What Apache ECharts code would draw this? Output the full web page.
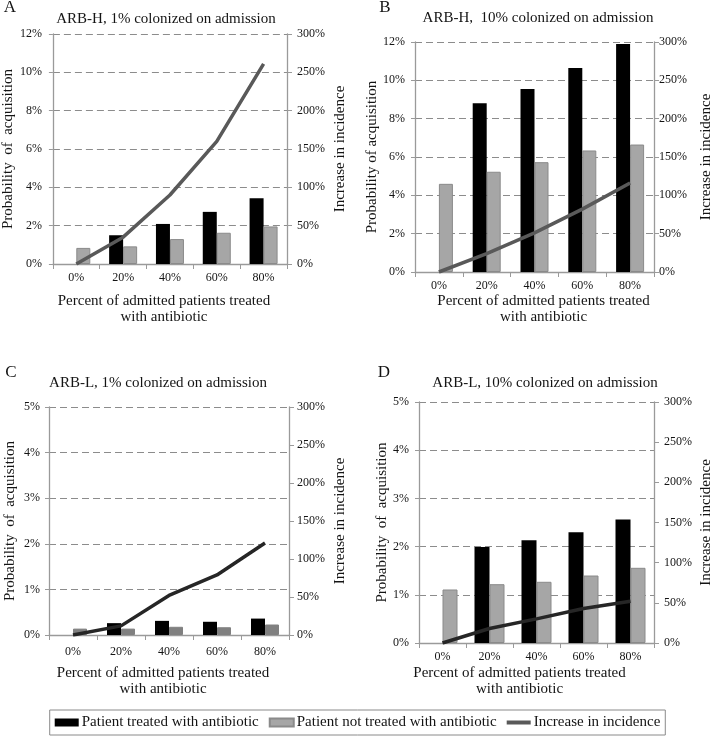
<!DOCTYPE html>
<html>
<head>
<meta charset="utf-8">
<script src="https://cdn.jsdelivr.net/npm/echarts@6/dist/echarts.min.js"></script>
<style>
html,body{margin:0;padding:0;background:#fff;}
#chart{width:715px;height:737px;}
</style>
</head>
<body>
<div id="chart"></div>
<script>
// ---- data ----
var categories = ['0%', '20%', '40%', '60%', '80%'];
var leftTicksH = [0, 12, 2];   // min, max, interval (percent)
var leftTicksL = [0, 5, 1];
var rightTicks = [0, 300, 50];

var A_treated   = [null, 1.5, 2.09, 2.72, 3.43];
var A_untreated = [0.84, 0.92, 1.3, 1.63, 1.96];
var A_increase  = [0, 35, 90, 160, 261];

var B_treated   = [null, 8.8, 9.55, 10.64, 11.89];
var B_untreated = [4.6, 5.23, 5.73, 6.34, 6.65];
var B_increase  = [0, 24, 51, 82, 116];

var C_treated   = [null, 0.26, 0.31, 0.29, 0.36];
var C_untreated = [0.14, 0.14, 0.18, 0.17, 0.23];
var C_increase  = [0, 12, 52, 79, 121];

var D_treated   = [null, 1.99, 2.13, 2.3, 2.56];
var D_untreated = [1.11, 1.22, 1.27, 1.4, 1.56];
var D_increase  = [0, 18, 30, 43, 52];

var panelTitles = ['ARB-H, 1% colonized on admission', 'ARB-H,  10% colonized on admission',
                   'ARB-L, 1% colonized on admission', 'ARB-L, 10% colonized on admission'];
var panelLetters = ['A', 'B', 'C', 'D'];
var yNames = ['Probability  of  acquisition', 'Probability of acquisition',
              'Probability  of  acquisition', 'Probability  of  acquisition'];
var y2Name = 'Increase in incidence';
var xName = 'Percent of admitted patients treated\nwith antibiotic';
var seriesNames = ['Patient treated with antibiotic', 'Patient not treated with antibiotic', 'Increase in incidence'];

// ---- layout / style ----
var FONT = '"Liberation Serif", "Times New Roman", serif';
var TXT = '#141414';
var AXC = '#9a9a9a';
var GRIDC = '#8c8c8c';

var panels = [
  {grid:{left:48, top:34, width:239, height:230}, ticks:leftTicksH, data:[A_treated, A_untreated, A_increase],
   title:[166,19], letter:[10,8], yGap:32, y2Gap:46, xGap:29, xPad:[0,12,0,0], xMargin:8, yMargin:11, y2Margin:10,
   grayColor:'#a6a6a6', grayBorder:'#8a8a8a', lineColor:'#595959', barW:14},
  {grid:{left:415, top:42, width:243, height:230}, ticks:leftTicksH, data:[B_treated, B_untreated, B_increase],
   title:[538,18], letter:[385,8], yGap:31, y2Gap:45, xGap:21, xPad:[0,0,0,18], xMargin:8, yMargin:10, y2Margin:5,
   grayColor:'#a6a6a6', grayBorder:'#8a8a8a', lineColor:'#595959', barW:14},
  {grid:{left:49, top:407, width:240, height:228}, ticks:leftTicksL, data:[C_treated, C_untreated, C_increase],
   title:[158,383], letter:[11,373], yGap:31, y2Gap:44, xGap:30, xPad:[0,12,0,0], xMargin:11, yMargin:9, y2Margin:8,
   grayColor:'#808080', grayBorder:'#808080', lineColor:'#262626', barW:14},
  {grid:{left:419, top:402, width:239, height:241}, ticks:leftTicksL, data:[D_treated, D_untreated, D_increase],
   title:[545,383], letter:[384,373], yGap:28, y2Gap:45, xGap:22, xPad:[0,34,0,0], xMargin:8, yMargin:10, y2Margin:10,
   grayColor:'#a6a6a6', grayBorder:'#8a8a8a', lineColor:'#262626', barW:15}
];

var grids = [], xAxes = [], yAxes = [], series = [], graphics = [];

panels.forEach(function (p, i) {
  grids.push(Object.assign({containLabel:false}, p.grid));
  xAxes.push({
    type:'category', gridIndex:i, data:categories, boundaryGap:true,
    axisLine:{show:true, lineStyle:{color:AXC, width:1.3}},
    axisTick:{show:true, length:5, lineStyle:{color:AXC}},
    axisLabel:{fontFamily:FONT, fontSize:12, color:TXT, margin:p.xMargin},
    name:xName, nameLocation:'middle', nameGap:p.xGap,
    nameTextStyle:{fontFamily:FONT, fontSize:15, color:TXT, lineHeight:16, padding:p.xPad, verticalAlign:'top'}
  });
  yAxes.push({
    type:'value', gridIndex:i, position:'left', min:p.ticks[0], max:p.ticks[1], interval:p.ticks[2],
    axisLine:{show:true, lineStyle:{color:AXC, width:1.3}},
    axisTick:{show:true, length:4, lineStyle:{color:AXC}},
    axisLabel:{fontFamily:FONT, fontSize:12, color:TXT, margin:p.yMargin, formatter:'{value}%'},
    splitLine:{show:true, lineStyle:{color:GRIDC, type:[7,4], width:1}},
    name:yNames[i], nameLocation:'middle', nameGap:p.yGap, nameRotate:90,
    nameTextStyle:{fontFamily:FONT, fontSize:15, color:TXT}
  });
  yAxes.push({
    type:'value', gridIndex:i, position:'right', min:rightTicks[0], max:rightTicks[1], interval:rightTicks[2],
    axisLine:{show:true, lineStyle:{color:AXC, width:1.3}},
    axisTick:{show:true, length:5, lineStyle:{color:AXC}},
    axisLabel:{fontFamily:FONT, fontSize:12, color:TXT, margin:p.y2Margin, formatter:'{value}%'},
    splitLine:{show:false},
    name:y2Name, nameLocation:'middle', nameGap:p.y2Gap, nameRotate:90,
    nameTextStyle:{fontFamily:FONT, fontSize:15, color:TXT}
  });
  series.push({
    name:seriesNames[0], type:'bar', xAxisIndex:i, yAxisIndex:2*i, data:p.data[0],
    barWidth:p.barW, barGap:'0%', itemStyle:{color:'#000000'}, z:2, animation:false
  });
  series.push({
    name:seriesNames[1], type:'bar', xAxisIndex:i, yAxisIndex:2*i, data:p.data[1],
    barWidth:p.barW, barGap:'0%', itemStyle:{color:p.grayColor, borderColor:p.grayBorder, borderWidth:1}, z:2, animation:false
  });
  series.push({
    name:seriesNames[2], type:'line', xAxisIndex:i, yAxisIndex:2*i+1, data:p.data[2],
    symbol:'none', showSymbol:false, lineStyle:{color:p.lineColor, width:3.5}, itemStyle:{color:p.lineColor},
    z:5, animation:false
  });
  graphics.push({
    type:'text', x:p.title[0], y:p.title[1], z:10,
    style:{text:panelTitles[i], font:'15px ' + FONT, fill:TXT, align:'center', verticalAlign:'middle'}
  });
  graphics.push({
    type:'text', x:p.letter[0], y:p.letter[1], z:10,
    style:{text:panelLetters[i], font:'17px ' + FONT, fill:TXT, align:'center', verticalAlign:'middle'}
  });
});

var chart = echarts.init(document.getElementById('chart'), null, {renderer:'canvas'});
chart.setOption({
  backgroundColor:'#ffffff',
  animation:false,
  grid:grids,
  xAxis:xAxes,
  yAxis:yAxes,
  series:series,
  graphic:graphics,
  legend:{
    data:[
      {name:seriesNames[0], icon:'rect'},
      {name:seriesNames[1], icon:'rect'},
      {name:seriesNames[2], icon:'path://M0,0H24V4H0Z', itemStyle:{color:'#595959'}}
    ],
    left:'center', top:710,
    padding:[5,5], itemGap:10, itemWidth:24, itemHeight:8,
    borderColor:'#8a8a8a', borderWidth:1,
    textStyle:{fontFamily:FONT, fontSize:15, color:TXT, padding:[0,0,0,-2]}
  }
});
</script>
</body>
</html>
